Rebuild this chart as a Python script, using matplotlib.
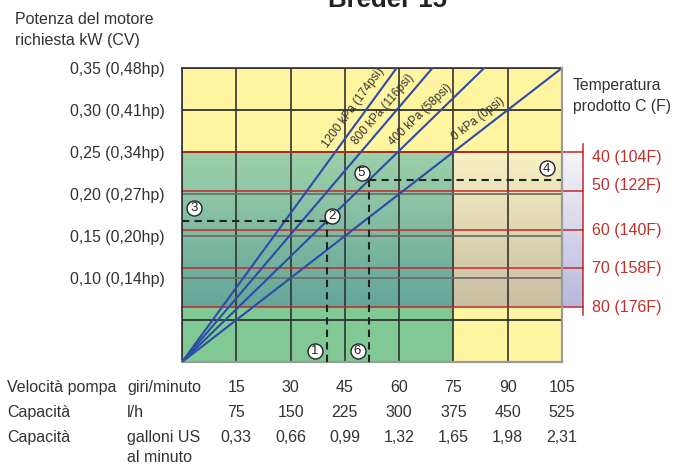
import numpy as np
import matplotlib
matplotlib.use("Agg")
import matplotlib.pyplot as plt
import matplotlib.transforms as mtransforms
from matplotlib.colors import LinearSegmentedColormap

plt.rcParams['font.family'] = ['Liberation Sans', 'DejaVu Sans']

# ---------------- data ----------------
title = "Breder 15"
pump_speed = [15, 30, 45, 60, 75, 90, 105]          # giri/minuto
capacity_lh = ["75", "150", "225", "300", "375", "450", "525"]
capacity_gpm = ["0,33", "0,66", "0,99", "1,32", "1,65", "1,98", "2,31"]
speed_labels = ["15", "30", "45", "60", "75", "90", "105"]

power_ticks = [0.10, 0.15, 0.20, 0.25, 0.30, 0.35]
power_tick_labels = ["0,10 (0,14hp)", "0,15 (0,20hp)", "0,20 (0,27hp)",
                     "0,25 (0,34hp)", "0,30 (0,41hp)", "0,35 (0,48hp)"]

pressure_labels = ["1200 kPa (174psi)", "800 kPa (116psi)", "400 kPa (58psi)", "0 kPa (0psi)"]
pressure_speed_at_max = [59.3, 69.2, 83.5, 105.0]   # speed where each line reaches 0.35 kW
power_max = 0.35

temp_labels = ["40 (104F)", "50 (122F)", "60 (140F)", "70 (158F)", "80 (176F)"]
temp_power = [0.25, 0.203, 0.157, 0.1115, 0.065]

# worked examples (dashed guides)
ex1_speed, ex1_power = 40, 0.168
ex2_speed, ex2_power = 51.7, 0.2167

marker_ids = ["1", "2", "3", "4", "5", "6"]
marker_x = [36.75, 41.5, 3.4, 100.8, 49.6, 48.5]
marker_y = [0.0131, 0.1742, 0.1833, 0.2306, 0.2254, 0.0131]

# ---------------- figure ----------------
W, H = 675, 465
fig = plt.figure(figsize=(W / 100, H / 100), dpi=100)
ax = fig.add_axes([182 / W, 1 - 362 / H, 380 / W, 294 / H])
xmax = 105
ax.set_xlim(0, xmax)
ax.set_ylim(0, power_max)

yellow = "#FFF5A0"
ax.set_facecolor(yellow)
strip_right = 110.8   # right edge of the temperature strip (outside axes)

def vgrad(x0, x1, y0, y1, ctop, cbot, clip=True, z=0.5):
    cmap = LinearSegmentedColormap.from_list("g", [cbot, ctop])
    grad = np.linspace(0, 1, 256).reshape(-1, 1)
    im = ax.imshow(grad, cmap=cmap, origin="lower", aspect="auto",
                   extent=(x0, x1, y0, y1), zorder=z, interpolation="bilinear")
    im.set_clip_on(clip)
    return im

t_top, t_bot = temp_power[0], temp_power[-1]
ax.fill_between([0, 75], 0, t_bot, color="#80C994", zorder=0.4, lw=0)
vgrad(0, 75, t_bot, t_top, "#9DD1A9", "#64A699")
vgrad(75, 105, t_bot, t_top, "#F8F1C2", "#C8BEA2")
vgrad(105, strip_right, t_bot, t_top, "#F6F6F9", "#B6B8DC", clip=False)
ax.set_xlim(0, xmax)
ax.set_ylim(0, power_max)

# grid
for xv in [0] + pump_speed:
    ax.plot([xv, xv], [0, power_max], color="#333333", lw=1.2, zorder=1)
for yv in np.arange(0.05, 0.351, 0.05):
    c = "#6E6E6E" if t_bot < yv < t_top - 0.01 else "#333333"
    ax.plot([0, xmax], [yv, yv], color=c, lw=1.3, zorder=1)

# temperature lines
red = "#C62828"
for p in temp_power:
    ax.plot([0, strip_right], [p, p], color=red, lw=1.1, zorder=2, clip_on=False)
ax.plot([strip_right, strip_right], [0.056, 0.2595], color=red, lw=1.1,
        zorder=2, clip_on=False)

# pressure lines
blue = "#2D4BA8"
label_back = [58, 64, 78, 98]     # px back from the top end of each line
label_perp = [11.5, 10.5, 10.5, 11]  # px offset perpendicular to the line
fig.canvas.draw()
for lab, xs, lb, lp in zip(pressure_labels, pressure_speed_at_max, label_back, label_perp):
    ax.plot([0, xs], [0, power_max], color=blue, lw=1.5, zorder=3)
    p0 = ax.transData.transform((0, 0))
    p1 = ax.transData.transform((xs, power_max))
    d = p1 - p0
    L = np.hypot(*d)
    u = d / L
    ang = np.degrees(np.arctan2(d[1], d[0]))
    perp = np.array([-u[1], u[0]])
    pos = p0 + u * (L - lb) + perp * lp
    ax.text(*ax.transData.inverted().transform(pos), lab, rotation=ang,
            rotation_mode="anchor", ha="center", va="center", fontsize=8.5,
            color="#333333", zorder=4)

# dashed guides
dk = dict(color="#222222", lw=1.5, ls=(0, (3.5, 2.5)), zorder=3.5)
ax.plot([ex1_speed, ex1_speed], [0, ex1_power], **dk)
ax.plot([0, ex1_speed], [ex1_power, ex1_power], **dk)
ax.plot([ex2_speed, ex2_speed], [0, ex2_power], **dk)
ax.plot([ex2_speed, xmax], [ex2_power, ex2_power], **dk)

# circled markers
for m, x, y in zip(marker_ids, marker_x, marker_y):
    ax.plot(x, y, "o", ms=10.8, mfc="white", mec="#222222", mew=1.0, zorder=5,
            clip_on=False)
    ax.text(x, y - 0.0004, m, ha="center", va="center", fontsize=9.5,
            color="#222222", zorder=6)

# spines / ticks
for s in ["left", "top"]:
    ax.spines[s].set_color("#333333")
    ax.spines[s].set_linewidth(1.2)
for s in ["right", "bottom"]:
    ax.spines[s].set_color("#9A9A9A")
    ax.spines[s].set_linewidth(1.6)
ax.spines["right"].set_zorder(6)
ax.set_xticks([])
ax.set_yticks(power_ticks)
ax.set_yticklabels(power_tick_labels, fontsize=11.4, color="#333333")
ax.tick_params(axis="y", length=0, pad=12.5)

txtc = "#333333"
# title (partly cropped at top, as in the original)
fig.text(388 / W, 1 - 7 / H, title, ha="center", va="baseline", fontsize=18.5,
         fontweight="bold", color="#222222")
# y-axis title
fig.text(15 / W, 1 - 20 / H, "Potenza del motore", ha="left", va="center",
         fontsize=11.5, color=txtc)
fig.text(15 / W, 1 - 41 / H, "richiesta kW (CV)", ha="left", va="center",
         fontsize=11.5, color=txtc)
# temperature title
fig.text(573 / W, 1 - 85 / H, "Temperatura", ha="left", va="center",
         fontsize=11.3, color=txtc)
fig.text(573 / W, 1 - 107 / H, "prodotto C (F)", ha="left", va="center",
         fontsize=11.3, color=txtc)
# temperature labels
tr_right = mtransforms.blended_transform_factory(fig.transFigure, ax.transData)
label_dy = [-0.006, 0.007, 0.0, 0.0, 0.0]
for lab, p, dy in zip(temp_labels, temp_power, label_dy):
    ax.text(592 / W, p + dy, lab, transform=tr_right, ha="left", va="center",
            fontsize=11.5, color="#C0302A")

# bottom table
tr_tab = mtransforms.blended_transform_factory(ax.transData, fig.transFigure)
rows_y = [387, 412, 437]
row_names = ["Velocità pompa", "Capacità", "Capacità"]
row_units = ["giri/minuto", "l/h", "galloni US"]
row_vals = [speed_labels, capacity_lh, capacity_gpm]
for ry, nm, un, vals in zip(rows_y, row_names, row_units, row_vals):
    fig.text(7 / W, 1 - ry / H, nm, ha="left", va="center", fontsize=11.5, color=txtc)
    fig.text(127 / W, 1 - ry / H, un, ha="left", va="center", fontsize=11.5, color=txtc)
    for xv, v in zip(pump_speed, vals):
        ax.text(xv, 1 - ry / H, v, transform=tr_tab, ha="center", va="center",
                fontsize=11.5, color=txtc)
fig.text(127 / W, 1 - 457 / H, "al minuto", ha="left", va="center",
         fontsize=11.5, color=txtc)

fig.savefig("out.png", dpi=100)
